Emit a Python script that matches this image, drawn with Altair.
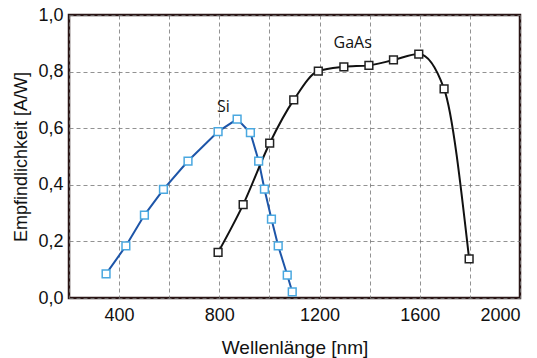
import altair as alt
import pandas as pd

si_x = [348, 427, 501, 577, 675, 795, 871, 924, 957, 980, 1008, 1035, 1071, 1091]
si_y = [0.085, 0.184, 0.293, 0.384, 0.484, 0.588, 0.632, 0.584, 0.484, 0.385, 0.279, 0.184, 0.081, 0.022]
gaas_x = [795, 895, 1001, 1097, 1195, 1297, 1397, 1495, 1596, 1697, 1797]
gaas_y = [0.161, 0.33, 0.547, 0.70, 0.802, 0.817, 0.822, 0.841, 0.862, 0.739, 0.138]
label_text = ["Si", "GaAs"]
label_x = [816, 1332]
label_y = [0.675, 0.90]

si = pd.DataFrame({"x": si_x, "y": si_y})
ga = pd.DataFrame({"x": gaas_x, "y": gaas_y})
lab = pd.DataFrame({"t": label_text, "x": label_x, "y": label_y})

xs = alt.Scale(domain=[200, 2000], nice=False)
ys = alt.Scale(domain=[0, 1.0], nice=False)

xax = alt.Axis(values=list(range(200, 2001, 200)), title="Wellenlänge [nm]",
               labelExpr="datum.value % 400 == 0 && datum.value > 200 ? datum.label : ''",
               format="d", grid=True, gridDash=[4, 3], gridColor="#777", gridOpacity=0.8,
               ticks=False, domain=False, labelFontSize=18, labelPadding=8,
               titleFontSize=19, titleFontWeight="normal", titlePadding=14,
               labelFont="Liberation Sans", titleFont="Liberation Sans", labelColor="#111", titleColor="#111")
yax = alt.Axis(values=[0, 0.2, 0.4, 0.6, 0.8, 1.0], title="Empfindlichkeit [A/W]",
               labelExpr="replace(format(datum.value, '.1f'), '.', ',')",
               grid=True, gridDash=[4, 3], gridColor="#777", gridOpacity=0.8,
               ticks=False, domain=False, labelFontSize=18, labelPadding=6,
               titleFontSize=18, titleFontWeight="normal", titlePadding=7,
               labelFont="Liberation Sans", titleFont="Liberation Sans", labelColor="#111", titleColor="#111")

base_si = alt.Chart(si).encode(x=alt.X("x:Q", scale=xs, axis=xax), y=alt.Y("y:Q", scale=ys, axis=yax))
si_line = base_si.mark_line(color="#1d55a8", strokeWidth=2)
si_pts = base_si.mark_point(shape="square", size=60, filled=True, fill="white", stroke="#4aa8e0", strokeWidth=1.5, opacity=1)

base_ga = alt.Chart(ga).encode(x=alt.X("x:Q", scale=xs), y=alt.Y("y:Q", scale=ys))
ga_line = base_ga.mark_line(color="#111", strokeWidth=2, interpolate="monotone")
ga_pts = base_ga.mark_point(shape="square", size=60, filled=True, fill="white", stroke="#222", strokeWidth=1.5, opacity=1)

labels = alt.Chart(lab).mark_text(fontSize=16, font="Open Sans", color="#111").encode(
    x=alt.X("x:Q", scale=xs), y=alt.Y("y:Q", scale=ys), text="t:N")

chart = alt.layer(si_line, ga_line, si_pts, ga_pts, labels).properties(
    width=451, height=283,
    autosize=alt.AutoSizeParams(type="none"),
    padding={"left": 69, "top": 15, "right": 17, "bottom": 60},
    background="white",
).configure_view(stroke="#2a1515", strokeWidth=2.5)

chart.save("out.html", embed_options={"renderer": "svg", "actions": False})
